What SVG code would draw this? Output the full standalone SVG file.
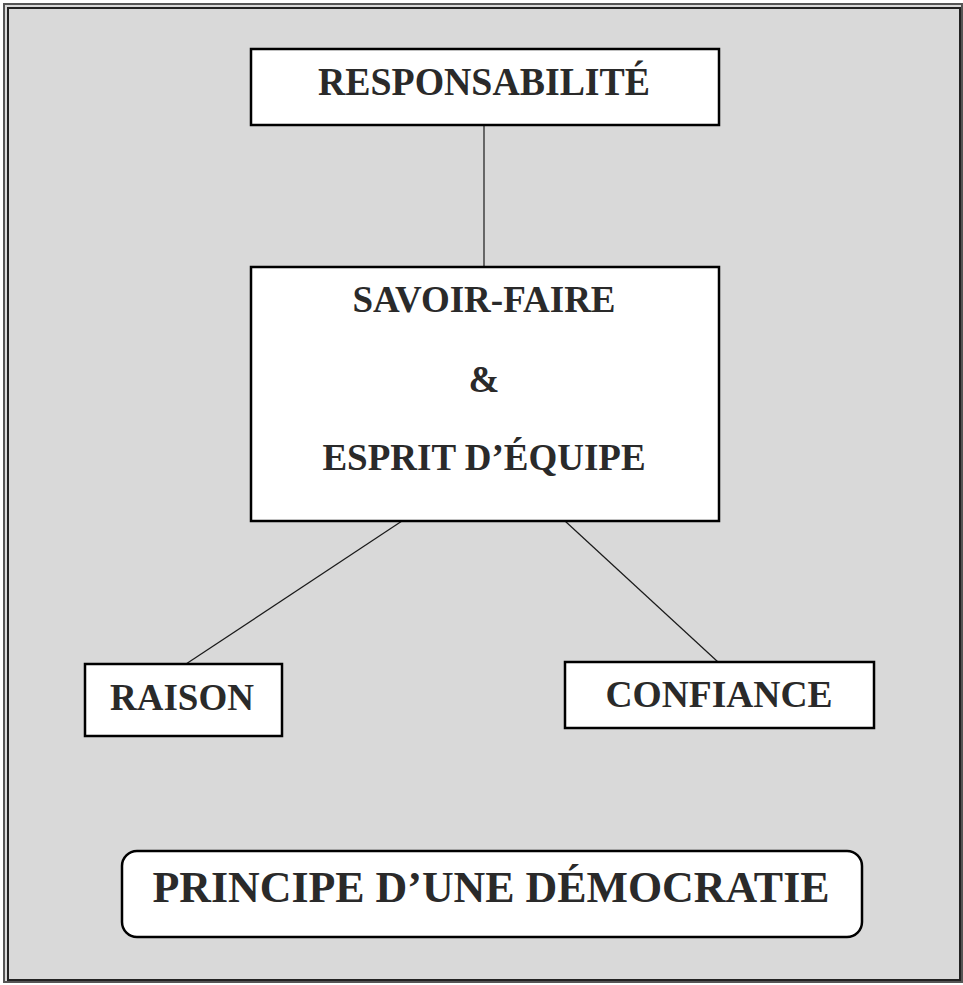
<svg xmlns="http://www.w3.org/2000/svg" width="963" height="985" viewBox="0 0 963 985">
<style>
.box{fill:#ffffff;stroke:#000000;stroke-width:2.5}
.t{font-family:"Liberation Serif","Times New Roman",serif;font-weight:bold;fill:#2a2a2a;text-anchor:middle}
.c{stroke:#1a1a1a;stroke-width:1.2;fill:none}
</style>
<rect x="0" y="0" width="963" height="985" fill="#ffffff"/>
<rect x="4" y="4" width="958" height="978" fill="#d9d9d9" stroke="#555555" stroke-width="2"/>
<rect x="8" y="8" width="952" height="972" fill="none" stroke="#222222" stroke-width="2"/>
<g id="connectors">
<line class="c" x1="484" y1="125" x2="484" y2="267"/>
<line class="c" x1="402" y1="521" x2="186" y2="664"/>
<line class="c" x1="565" y1="521" x2="718" y2="662"/>
</g>
<g id="responsabilite">
<rect class="box" x="251" y="49" width="468" height="76"/>
<text class="t" x="484" y="95" font-size="39" textLength="332" lengthAdjust="spacingAndGlyphs">RESPONSABILITÉ</text>
</g>
<g id="savoir-faire">
<rect class="box" x="251" y="267" width="468" height="254"/>
<text class="t" x="484" y="312" font-size="37">SAVOIR-FAIRE</text>
<text class="t" x="484" y="392" font-size="37">&amp;</text>
<text class="t" x="484" y="470" font-size="37">ESPRIT D’ÉQUIPE</text>
</g>
<g id="raison">
<rect class="box" x="85" y="664" width="197" height="72"/>
<text class="t" x="182" y="710" font-size="37">RAISON</text>
</g>
<g id="confiance">
<rect class="box" x="565" y="662" width="309" height="66"/>
<text class="t" x="719" y="707" font-size="37.5">CONFIANCE</text>
</g>
<g id="principe">
<rect class="box" x="122" y="851" width="740" height="86" rx="15" ry="15"/>
<text class="t" x="491" y="902" font-size="45" textLength="677" lengthAdjust="spacingAndGlyphs">PRINCIPE D’UNE DÉMOCRATIE</text>
</g>
</svg>
